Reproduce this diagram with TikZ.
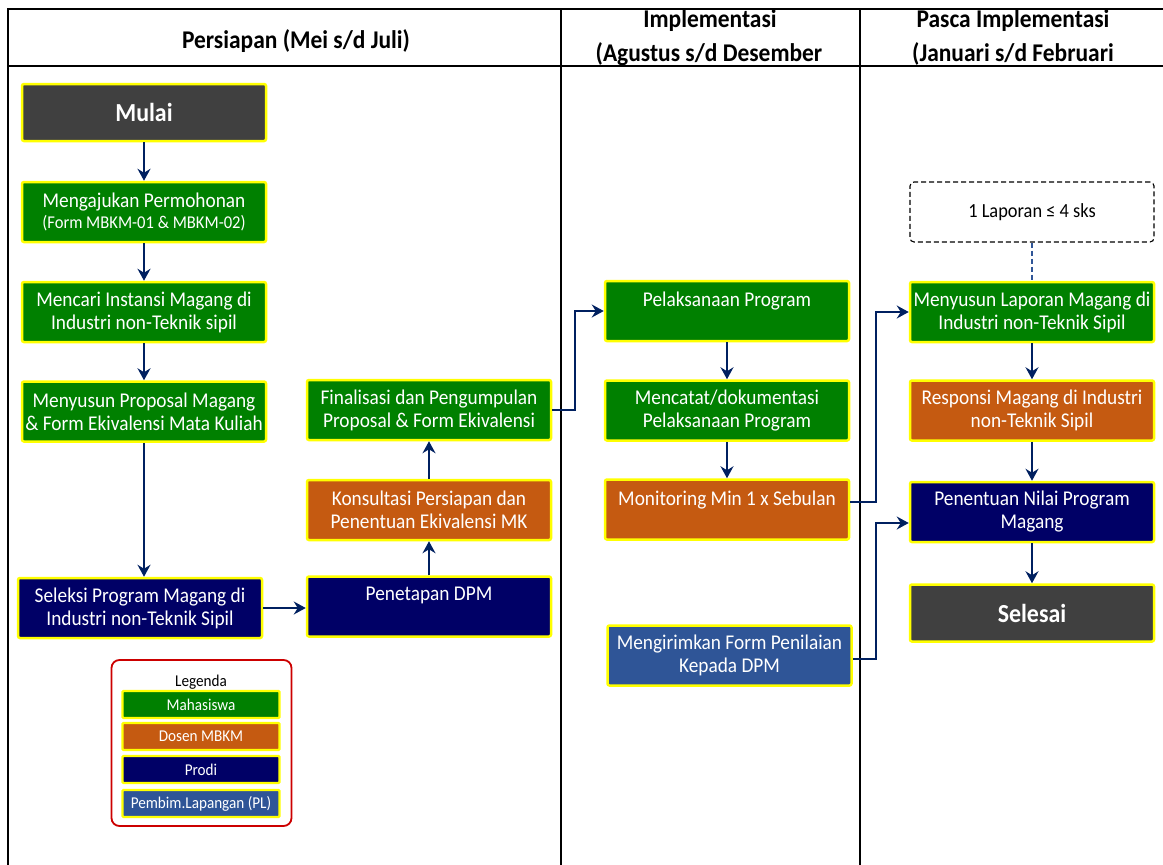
\documentclass[tikz,border=0pt]{standalone}
\usepackage{fontspec}
\setmainfont{Carlito}[FakeStretch=0.92]
\usetikzlibrary{arrows.meta,calc}
\definecolor{cgreen}{HTML}{008000}
\definecolor{corange}{HTML}{C55A11}
\definecolor{cnavy}{HTML}{000066}
\definecolor{cgray}{HTML}{404040}
\definecolor{cblue}{HTML}{2F5597}
\definecolor{carrow}{HTML}{002060}
\definecolor{cyel}{HTML}{FFFF00}
\definecolor{cred}{HTML}{CC0000}
\tikzset{
  box/.style={draw=cyel, line width=2.5pt, rounded corners=2pt, minimum width=244pt, minimum height=60pt, text=white, align=center, font=\fontsize{21}{23}\selectfont, inner sep=2pt},
  termbox/.style={box, fill=cgray, minimum height=57pt, font=\fontsize{26}{28}\selectfont\bfseries},
  mhs/.style={box, fill=cgreen},
  dsn/.style={box, fill=corange},
  prd/.style={box, fill=cnavy},
  pl/.style={box, fill=cblue},
  legbox/.style={draw=cyel, line width=2.2pt, rounded corners=1pt, minimum width=157pt, minimum height=27pt, text=white, font=\fontsize{16.5}{17}\selectfont, inner sep=1pt},
  frame/.style={line width=2.2pt, black},
  conn/.style={draw=carrow, line width=1.8pt, -{Stealth[length=12pt,width=13pt,inset=4pt]}},
  hdr/.style={font=\fontsize{25.5}{27}\selectfont\bfseries, text=black, inner sep=0pt}
}
\begin{document}
\begin{tikzpicture}[x=1pt,y=-1pt]
\useasboundingbox (0,0) rectangle (1163,865);
% frame
\draw[frame] (8,866) -- (8,9) -- (1170,9);
\draw[frame] (8,66) -- (1170,66);
\draw[frame] (561,9) -- (561,866);
\draw[frame] (860,9) -- (860,866);
% headers
\node[hdr] (h1) at (296,41) {Persiapan (Mei s/d Juli)};
\node[hdr] (h2a) at (710,21) {Implementasi};
\node[hdr] (h2b) at (709,54) {(Agustus s/d Desember};
\node[hdr] (h3a) at (1013,21) {Pasca Implementasi};
\node[hdr] (h3b) at (1013,54) {(Januari s/d Februari};
% column 1
\node[termbox] (mulai) at (144,112.5) {Mulai};
\node[mhs] (ajukan) at (144,212) {Mengajukan Permohonan\\[-2pt]{\fontsize{18}{19}\selectfont (Form MBKM-01 \& MBKM-02)}};
\node[mhs] (cari) at (144,312) {Mencari Instansi Magang di\\Industri non-Teknik sipil};
\node[mhs] (susun) at (144,411.5) {Menyusun Proposal Magang\\\& Form Ekivalensi Mata Kuliah};
\node[prd] (seleksi) at (140,608) {Seleksi Program Magang di\\Industri non-Teknik Sipil};
\node[prd] (tetap) at (429,606.5) {Penetapan DPM\\[2pt]\phantom{X}};
\node[dsn] (konsul) at (429,510) {Konsultasi Persiapan dan\\Penentuan Ekivalensi MK};
\node[mhs] (final) at (429,410) {Finalisasi dan Pengumpulan\\Proposal \& Form Ekivalensi};
% column 2
\node[mhs] (laksana) at (727,311) {Pelaksanaan Program\\\phantom{X}};
\node[mhs] (catat) at (727,410.5) {Mencatat/dokumentasi\\Pelaksanaan Program};
\node[dsn] (monitor) at (727,509.5) {Monitoring Min 1 x Sebulan\\\phantom{X}};
\node[pl] (kirim) at (729.5,655.5) {Mengirimkan Form Penilaian\\Kepada DPM};
% column 3
\node[draw=black, dash pattern=on 5pt off 3pt, line width=1.1pt, rounded corners=4pt, minimum width=244pt, minimum height=60pt, font=\fontsize{20}{21}\selectfont] (note) at (1032,212) {1 Laporan ≤ 4 sks};
\node[mhs] (lapor) at (1032,312) {Menyusun Laporan Magang di\\Industri non-Teknik Sipil};
\node[dsn] (responsi) at (1032,410.5) {Responsi Magang di Industri\\non-Teknik Sipil};
\node[prd] (nilai) at (1032,512) {Penentuan Nilai Program\\Magang};
\node[termbox] (selesai) at (1032,613) {Selesai};
% legend
\node[draw=cred, line width=1.8pt, rounded corners=8pt, minimum width=180pt, minimum height=166pt] (leg) at (201.5,743) {};
\node[font=\fontsize{16.5}{17}\selectfont, inner sep=0pt] (legt) at (201,682) {Legenda};
\node[legbox, fill=cgreen] (l1) at (201,704.5) {Mahasiswa};
\node[legbox, fill=corange] (l2) at (201,736.5) {Dosen MBKM};
\node[legbox, fill=cnavy] (l3) at (201,769.5) {Prodi};
\node[legbox, fill=cblue] (l4) at (201,803.5) {Pembim.Lapangan (PL)};
% connectors
\draw[conn] (mulai.south) -- (ajukan.north);
\draw[conn] (ajukan.south) -- (cari.north);
\draw[conn] (cari.south) -- (susun.north);
\draw[conn] (susun.south) -- (susun.south |- seleksi.north);
\draw[conn] (seleksi.east) -- (tetap.west |- seleksi.east);
\draw[conn] (tetap.north) -- (konsul.south);
\draw[conn] (konsul.north) -- (final.north |- final.south);
\coordinate (f1) at ($(final.east)+(23,0)$);
\draw[conn] (final.east) -- (f1) |- (laksana.west);
\draw[conn] (laksana.south) -- (catat.north);
\draw[conn] (catat.south) -- (monitor.north);
\coordinate (m0) at ($(monitor.east)+(0,-7.5)$);
\coordinate (m1) at (876,502);
\draw[conn] (m0) -- (m1) |- (lapor.west);
\coordinate (k0) at ($(kirim.east)+(0,3.5)$);
\coordinate (k1) at (876,659);
\coordinate (n0) at ($(nilai.west)+(0,11)$);
\draw[conn] (k0) -- (k1) |- (n0);
\draw[cblue, dash pattern=on 5pt off 3pt, line width=1.3pt] (note.south) -- (lapor.north);
\draw[conn] (lapor.south) -- (responsi.north);
\draw[conn] (responsi.south) -- (nilai.north);
\draw[conn] (nilai.south) -- (selesai.north);
\end{tikzpicture}
\end{document}
